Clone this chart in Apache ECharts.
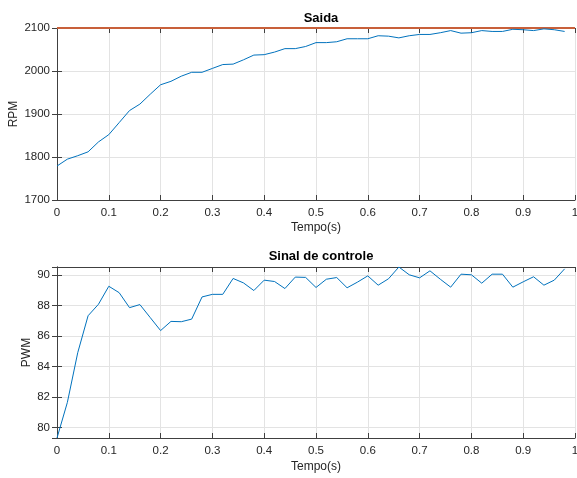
<!DOCTYPE html>
<html>
<head>
<meta charset="utf-8">
<script src="https://cdn.jsdelivr.net/npm/echarts@6/dist/echarts.min.js"></script>
<style>html,body{margin:0;padding:0;background:#fff}#c{width:577px;height:478px}</style>
</head>
<body>
<div id="c"></div>
<script>
var time = [0,0.02,0.04,0.06,0.08,0.10,0.12,0.14,0.16,0.18,0.20,0.22,0.24,0.26,0.28,0.30,0.32,0.34,0.36,0.38,0.40,0.42,0.44,0.46,0.48,0.50,0.52,0.54,0.56,0.58,0.60,0.62,0.64,0.66,0.68,0.70,0.72,0.74,0.76,0.78,0.80,0.82,0.84,0.86,0.88,0.90,0.92,0.94,0.96,0.98];
var rpm = [1779,1795,1803,1812,1835,1852,1880,1908,1923,1946,1968,1976,1988,1997,1997,2006,2015,2016,2026,2037,2038,2044,2052,2052,2057,2066,2066,2068,2075,2075,2075,2082,2081,2077,2082,2085,2085,2089,2094,2088,2089,2094,2092,2092,2097,2096,2094,2098,2096,2092];
var refTime = [0, 1];
var refRpm = [2100, 2100];
var pwm = [79.32,81.65,84.9,87.32,88.07,89.25,88.83,87.85,88.05,87.2,86.35,86.95,86.93,87.1,88.55,88.72,88.72,89.76,89.47,88.97,89.65,89.56,89.1,89.85,89.83,89.17,89.71,89.82,89.15,89.52,89.93,89.32,89.74,90.51,90.0,89.8,90.26,89.71,89.19,90.04,90.0,89.45,90.04,90.04,89.19,89.54,89.87,89.32,89.65,90.39];
var titles = ['Saida', 'Sinal de controle'];
var yNames = ['RPM', 'PWM'];
var xName = 'Tempo(s)';

function pairs(xs, ys){ return xs.map(function(x,i){ return [x, ys[i]]; }); }

var FONT = 'Liberation Sans, Arial, Helvetica, sans-serif';
var AX = '#404040';
var GRID = '#e3e3e3';
var chart = echarts.init(document.getElementById('c'), null, {renderer:'canvas'});
function fmt(v){ return String(+v.toFixed(4)); }

function xAxes(gi, gap){
  return [{
    type:'value', gridIndex:gi, min:0, max:1, interval:0.1, position:'bottom',
    name:xName, nameLocation:'middle', nameGap:gap, nameMoveOverlap:false,
    nameTextStyle:{fontFamily:FONT, fontSize:12, color:'#262626'},
    axisLine:{show:true, lineStyle:{color:AX, width:1}},
    axisTick:{show:true, inside:true, length:5, lineStyle:{color:AX}},
    axisLabel:{fontFamily:FONT, fontSize:11.5, color:'#262626', margin:7, formatter:fmt},
    splitLine:{show:true, lineStyle:{color:GRID, width:1}}
  },{
    type:'value', gridIndex:gi, min:0, max:1, interval:0.1, position:'top',
    axisLine:{show:true, lineStyle:{color:AX, width:1}},
    axisTick:{show:true, inside:true, length:5, lineStyle:{color:AX}},
    axisLabel:{show:false}, splitLine:{show:false}
  }];
}
function yAxes(gi, opts, gap, name){
  var left = Object.assign({
    type:'value', gridIndex:gi, position:'left',
    name:name, nameLocation:'middle', nameGap:gap, nameRotate:90, nameMoveOverlap:false,
    nameTextStyle:{fontFamily:FONT, fontSize:12, color:'#262626'},
    axisLine:{show:true, lineStyle:{color:AX, width:1}},
    axisTick:{show:true, inside:true, length:5, lineStyle:{color:AX}},
    axisLabel:{fontFamily:FONT, fontSize:11.5, color:'#262626', margin:7, formatter:fmt},
    splitLine:{show:true, lineStyle:{color:GRID, width:1}}
  }, opts);
  var right = Object.assign({
    type:'value', gridIndex:gi, position:'right',
    axisLine:{show:true, lineStyle:{color:AX, width:1}},
    axisTick:{show:true, inside:true, length:5, lineStyle:{color:AX}},
    axisLabel:{show:false}, splitLine:{show:false}
  }, opts);
  return [left, right];
}

var x0 = xAxes(0, 22), x1 = xAxes(1, 23);
var y0 = yAxes(0, {min:1700, max:2100, interval:100}, 37, yNames[0]);
var y1 = yAxes(1, {min:79.32, max:90.51, splitNumber:5}, 24, yNames[1]);
y1[0].axisLabel.showMinLabel = false; y1[0].axisLabel.showMaxLabel = false;

var option = {
  animation:false,
  backgroundColor:'#fff',
  title:[
    {text:titles[0], left:316, top:7, textAlign:'center', textStyle:{fontFamily:FONT, fontSize:13, fontWeight:'bold', color:'#000'}},
    {text:titles[1], left:316, top:245, textAlign:'center', textStyle:{fontFamily:FONT, fontSize:13, fontWeight:'bold', color:'#000'}}
  ],
  grid:[
    {left:57, right:2, top:28, height:172, show:false, containLabel:false, outerBoundsMode:'none'},
    {left:57, right:2, top:267, height:171, show:false, containLabel:false, outerBoundsMode:'none'}
  ],
  xAxis:[x0[0], x0[1], x1[0], x1[1]],
  yAxis:[y0[0], y0[1], y1[0], y1[1]],
  series:[
    {type:'line', xAxisIndex:0, yAxisIndex:0, data:pairs(refTime, refRpm), showSymbol:false, lineStyle:{color:'#C8603A', width:2}, z:3},
    {type:'line', xAxisIndex:0, yAxisIndex:0, data:pairs(time, rpm), showSymbol:false, lineStyle:{color:'#0072BD', width:1}, z:4},
    {type:'line', xAxisIndex:2, yAxisIndex:2, data:pairs(time, pwm), showSymbol:false, lineStyle:{color:'#0072BD', width:1}, z:4}
  ]
};
chart.setOption(option);
</script>
</body>
</html>
